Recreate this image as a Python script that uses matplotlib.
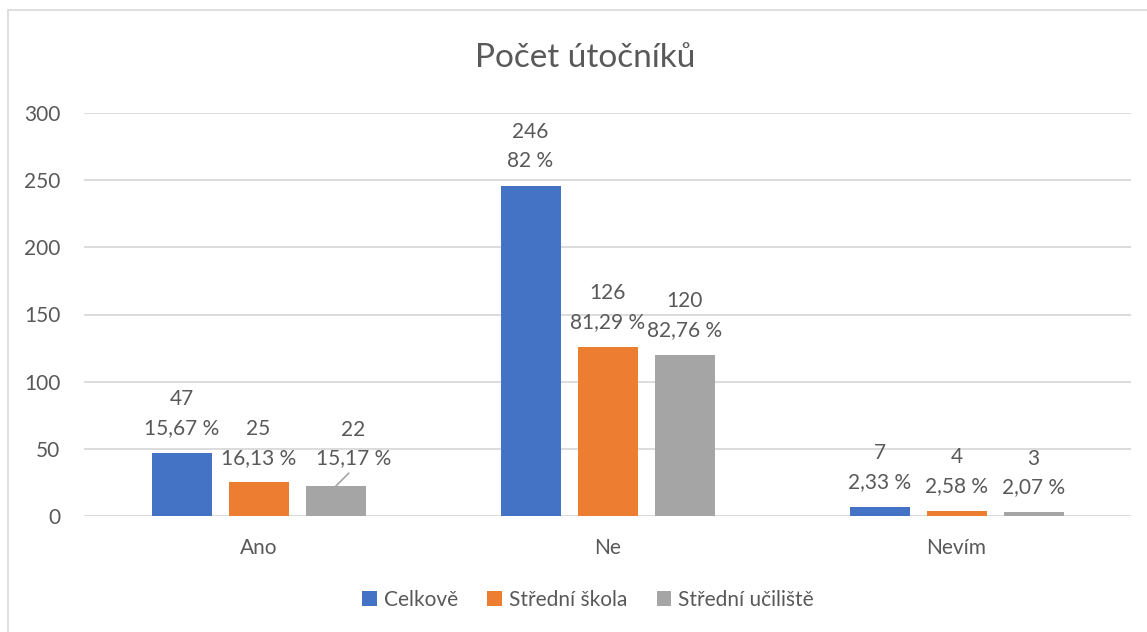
import matplotlib.pyplot as plt
import numpy as np

# ------------------------------------------------------------------ DATA
categories = ['Ano', 'Ne', 'Nevím']
series = ['Celkově', 'Střední škola', 'Střední učiliště']
celkove = [47, 246, 7]
stredni_skola = [25, 126, 4]
stredni_uciliste = [22, 120, 3]
pct_celkove = ['15,67 %', '82 %', '2,33 %']
pct_skola = ['16,13 %', '81,29 %', '2,58 %']
pct_uciliste = ['15,17 %', '82,76 %', '2,07 %']
yticks = [0, 50, 100, 150, 200, 250, 300]

colors = ['#4472C4', '#ED7D31', '#A5A5A5']
txt = '#595959'
grid = '#D9D9D9'
fs = 15

plt.rcParams['font.family'] = ['Lato', 'DejaVu Sans']

fig = plt.figure(figsize=(11.47, 6.32), dpi=100)
ax = fig.add_axes([84/1147, 1-516/632, (1131-84)/1147, (516-113)/632])

# outer chart border
fig.patches.append(plt.Rectangle((8/1147, -0.01), 1.0, 1-10/632+0.01,
                                 transform=fig.transFigure, fill=False,
                                 edgecolor=grid, linewidth=1.2))

x = np.arange(len(categories))
width = 60/349
step = 77/349
values = [celkove, stredni_skola, stredni_uciliste]
pcts = [pct_celkove, pct_skola, pct_uciliste]

for i in range(3):
	xs = x + (i-1)*step
	ax.bar(xs, values[i], width, color=colors[i], label=series[i], zorder=3)
	for j in range(len(categories)):
		lab = str(values[i][j]) + '\n' + pcts[i][j]
		if i == 2 and j == 0:
			ax.annotate(lab, xy=(xs[j], values[i][j]), xytext=(13, 13),
			            textcoords='offset points', ha='center', va='bottom',
			            fontsize=fs, color=txt, linespacing=1.55,
			            arrowprops=dict(arrowstyle='-', color='#A5A5A5', lw=1.2,
			                            shrinkA=2, shrinkB=0,
			                            relpos=(0.5, 0.0)))
		else:
			ax.annotate(lab, xy=(xs[j], values[i][j]), xytext=(0, 10.5),
			            textcoords='offset points', ha='center', va='bottom',
			            fontsize=fs, color=txt, linespacing=1.55)

ax.set_xlim(-0.5, 2.5)
ax.set_ylim(0, 300)
ax.set_yticks(yticks)
ax.set_xticks(x)
ax.set_xticklabels(categories)
ax.tick_params(axis='y', length=0, pad=17, labelsize=fs, labelcolor=txt)
ax.tick_params(axis='x', length=0, pad=16, labelsize=fs, labelcolor=txt)
ax.grid(axis='y', color=grid, linewidth=1.3, zorder=0)
for s in ax.spines.values():
	s.set_visible(False)

fig.text(585/1147, 1-58/632, 'Počet útočníků', ha='center', va='center',
         fontsize=24, color=txt)

leg = fig.legend(loc='center', bbox_to_anchor=(588/1147, 1-600/632), ncol=3,
                 frameon=False, fontsize=fs, handlelength=0.7, handleheight=0.7,
                 handletextpad=0.35, columnspacing=1.4)
for t in leg.get_texts():
	t.set_color(txt)

fig.savefig('out.png', dpi=100)
